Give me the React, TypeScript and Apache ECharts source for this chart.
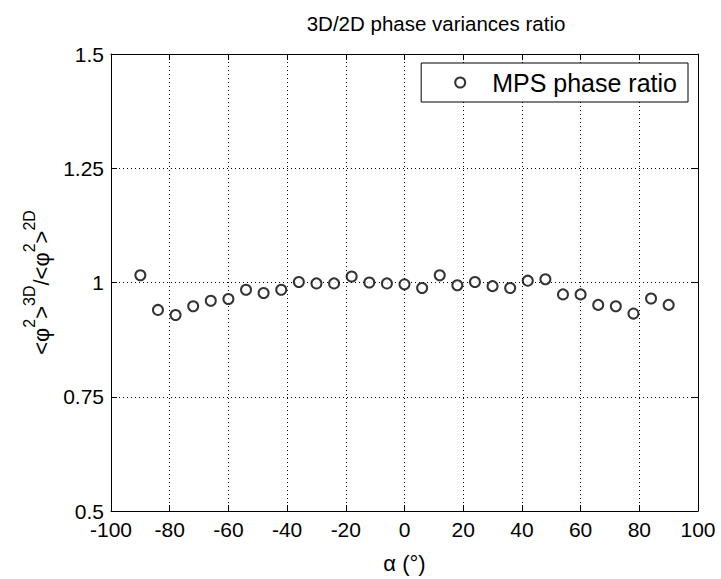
import React, { useEffect, useRef } from "react";
import * as echarts from "echarts";

const alphaDeg = [-90, -84, -78, -72, -66, -60, -54, -48, -42, -36, -30, -24, -18, -12, -6, 0, 6, 12, 18, 24, 30, 36, 42, 48, 54, 60, 66, 72, 78, 84, 90];
const ratio = [1.016, 0.94, 0.929, 0.948, 0.96, 0.964, 0.984, 0.977, 0.984, 1.001, 0.998, 0.998, 1.013, 1.0, 0.998, 0.996, 0.988, 1.016, 0.994, 1.001, 0.992, 0.988, 1.004, 1.007, 0.974, 0.974, 0.951, 0.948, 0.932, 0.965, 0.951];
const yTicks = [0.5, 0.75, 1, 1.25, 1.5];
const xTicks = [-100, -80, -60, -40, -20, 0, 20, 40, 60, 80, 100];
const seriesName = "MPS phase ratio";
const titleText = "3D/2D phase variances ratio";
const xName = "α (°)";

const FONT = "'Liberation Sans', Arial, Helvetica, sans-serif";

export default function App() {
  const ref = useRef<HTMLDivElement>(null);
  useEffect(() => {
    if (!ref.current) return;
    const chart = echarts.init(ref.current, undefined, { renderer: "svg" });
    const gridLeft = 111, gridRight = 23, gridTop = 54, gridBottom = 63;
    const dotted = { type: [1, 3] as any, color: "#000", width: 1 };
    const axisLineStyle = { color: "#000", width: 1 };
    const fmtY = (v: number) => {
      const hit = yTicks.find((t) => Math.abs(t - v) < 1e-9);
      return hit === undefined ? "" : String(hit);
    };
    const fmtX = (v: number) => {
      const hit = xTicks.find((t) => Math.abs(t - v) < 1e-9);
      return hit === undefined ? "" : String(hit);
    };
    chart.setOption({
      animation: false,
      backgroundColor: "#fff",
      textStyle: { fontFamily: FONT },
      graphic: [
        {
          type: "text",
          x: 436,
          y: 23,
          style: {
            text: titleText,
            fontSize: 20.5,
            fontFamily: FONT,
            fill: "#000",
            align: "center",
            verticalAlign: "middle",
            textAlign: "center",
            textVerticalAlign: "middle",
          },
        },
      ],
      legend: {
        data: [seriesName],
        top: 63,
        right: 33,
        orient: "vertical",
        backgroundColor: "#fff",
        borderColor: "#000",
        borderWidth: 1,
        borderRadius: 0,
        padding: [5, 11, 5, 33],
        itemWidth: 10,
        itemHeight: 10,
        itemGap: 0,
        icon: "emptyCircle",
        textStyle: { fontSize: 25, lineHeight: 29, color: "#000", fontFamily: FONT, padding: [0, 0, 0, 22] },
      },
      grid: { left: gridLeft, right: gridRight, top: gridTop, bottom: gridBottom, containLabel: false },
      xAxis: [
        {
          type: "value",
          min: -100,
          max: 100,
          interval: 20,
          position: "bottom",
          name: xName,
          nameLocation: "middle",
          nameGap: 41,
          nameTextStyle: { fontSize: 22, color: "#000", fontFamily: FONT },
          axisLine: { show: true, onZero: false, lineStyle: axisLineStyle },
          axisTick: { show: true, inside: true, length: 6, lineStyle: axisLineStyle },
          axisLabel: { fontSize: 21, color: "#000", margin: 8, formatter: fmtX, fontFamily: FONT },
          splitLine: { show: true, lineStyle: dotted },
        },
        {
          type: "value",
          min: -100,
          max: 100,
          interval: 20,
          position: "top",
          axisLine: { show: true, onZero: false, lineStyle: axisLineStyle },
          axisTick: { show: true, inside: true, length: 6, lineStyle: axisLineStyle },
          axisLabel: { show: false },
          splitLine: { show: false },
        },
      ],
      yAxis: [
        {
          type: "value",
          min: 0.5,
          max: 1.5,
          interval: 0.25,
          position: "left",
          name: "{b|<φ}{s|2}{b|>}{s|3D}{b|/<φ}{s|2}{b|>}{s|2D}",
          nameLocation: "middle",
          nameGap: 58,
          nameRotate: 90,
          nameTextStyle: {
            color: "#000",
            fontFamily: FONT,
            rich: {
              b: { fontSize: 22, lineHeight: 31, verticalAlign: "bottom", color: "#000", fontFamily: FONT },
              s: { fontSize: 16, lineHeight: 31, verticalAlign: "top", color: "#000", fontFamily: FONT },
            },
          },
          axisLine: { show: true, onZero: false, lineStyle: axisLineStyle },
          axisTick: { show: true, inside: true, length: 6, lineStyle: axisLineStyle },
          axisLabel: { fontSize: 21, color: "#000", margin: 7, formatter: fmtY, fontFamily: FONT },
          splitLine: { show: true, lineStyle: dotted },
        },
        {
          type: "value",
          min: 0.5,
          max: 1.5,
          interval: 0.25,
          position: "right",
          axisLine: { show: true, onZero: false, lineStyle: axisLineStyle },
          axisTick: { show: true, inside: true, length: 6, lineStyle: axisLineStyle },
          axisLabel: { show: false },
          splitLine: { show: false },
        },
      ],
      series: [
        {
          name: seriesName,
          type: "scatter",
          xAxisIndex: 0,
          yAxisIndex: 0,
          symbol: "emptyCircle",
          symbolSize: 10,
          itemStyle: { color: "#000", borderColor: "#000", borderWidth: 2 },
          data: alphaDeg.map((a, i) => [a, ratio[i]]),
        },
      ],
    });
    return () => chart.dispose();
  }, []);
  return (
    <div
      ref={ref}
      style={{ position: "fixed", left: 0, top: 0, width: 721, height: 579, background: "#fff" }}
    />
  );
}
